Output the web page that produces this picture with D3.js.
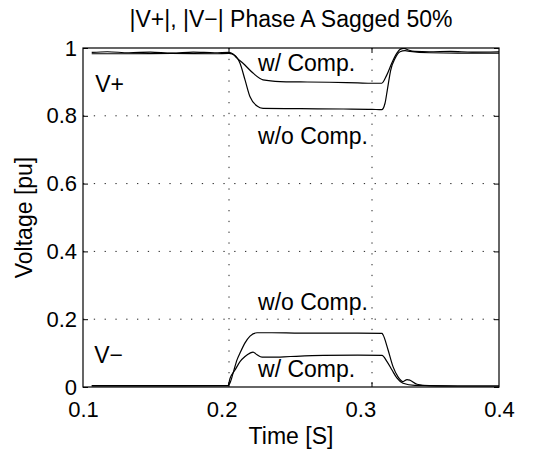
<!DOCTYPE html>
<html>
<head>
<meta charset="utf-8">
<script src="https://cdn.jsdelivr.net/npm/d3@7/dist/d3.min.js"></script>
<style>
  html, body { margin: 0; padding: 0; background: #fff; }
  svg text { font-family: "Liberation Sans", Arial, Helvetica, sans-serif; fill: #000; }
</style>
</head>
<body>
<svg id="chart" width="541" height="454"></svg>
<script>
// ---------------- data ----------------
const title = "|V+|, |V\u2212| Phase A Sagged 50%";
const xAxisTitle = "Time [S]";
const yAxisTitle = "Voltage [pu]";
const xTickValues = [0.1, 0.2, 0.3, 0.4];
const xTickLabels = ["0.1", "0.2", "0.3", "0.4"];
const yTickValues = [0, 0.2, 0.4, 0.6, 0.8, 1];
const yTickLabels = ["0", "0.2", "0.4", "0.6", "0.8", "1"];
const xGridValues = [0.2, 0.3];
const yGridValues = [0.2, 0.4, 0.6, 0.8];

// |V+| with compensation
const tPosWith = [0.104, 0.115, 0.13, 0.145, 0.16, 0.175, 0.19, 0.2, 0.2028, 0.2056, 0.2098, 0.2168, 0.2238, 0.2357, 0.25, 0.27, 0.29, 0.3, 0.3068, 0.3103, 0.3138, 0.3173, 0.3196, 0.3224, 0.3254, 0.33, 0.34, 0.355, 0.37, 0.39];
const vPosWith = [0.987, 0.989, 0.986, 0.988, 0.985, 0.988, 0.986, 0.987, 0.982, 0.97, 0.955, 0.926, 0.906, 0.901, 0.9, 0.899, 0.897, 0.896, 0.896, 0.92, 0.955, 0.984, 0.996, 0.999, 0.994, 0.99, 0.989, 0.99, 0.988, 0.989];
// |V+| without compensation
const tPosWithout = [0.104, 0.13, 0.16, 0.19, 0.2, 0.2042, 0.2077, 0.2112, 0.2147, 0.2196, 0.2238, 0.25, 0.28, 0.3, 0.3068, 0.3091, 0.3107, 0.3131, 0.3161, 0.3196, 0.3231, 0.3266, 0.34, 0.36, 0.39];
const vPosWithout = [0.983, 0.983, 0.984, 0.983, 0.984, 0.978, 0.955, 0.906, 0.856, 0.829, 0.822, 0.821, 0.82, 0.819, 0.818, 0.837, 0.876, 0.935, 0.969, 0.989, 0.992, 0.99, 0.986, 0.985, 0.985];
// |V-| without compensation
const tNegWithout = [0.104, 0.15, 0.1993, 0.2007, 0.2028, 0.2056, 0.2077, 0.2112, 0.2147, 0.2196, 0.23, 0.25, 0.27, 0.29, 0.307, 0.3077, 0.3112, 0.3147, 0.3182, 0.3217, 0.3245, 0.3266, 0.3315, 0.34, 0.36, 0.39];
const vNegWithout = [0.004, 0.004, 0.004, 0.012, 0.04, 0.08, 0.1, 0.13, 0.15, 0.16, 0.16, 0.159, 0.159, 0.159, 0.158, 0.154, 0.11, 0.06, 0.03, 0.016, 0.022, 0.02, 0.008, 0.004, 0.003, 0.003];
// |V-| with compensation
const tNegWith = [0.104, 0.15, 0.1993, 0.2007, 0.2042, 0.2077, 0.2112, 0.2147, 0.2168, 0.2196, 0.2231, 0.23, 0.243, 0.266, 0.29, 0.307, 0.3105, 0.314, 0.3175, 0.3217, 0.33, 0.36, 0.39];
const vNegWith = [0.003, 0.003, 0.004, 0.025, 0.05, 0.075, 0.09, 0.1, 0.103, 0.095, 0.088, 0.088, 0.09, 0.093, 0.094, 0.093, 0.075, 0.05, 0.026, 0.011, 0.005, 0.003, 0.003];

const series = [
  { t: tPosWith, v: vPosWith },
  { t: tPosWithout, v: vPosWithout },
  { t: tNegWithout, v: vNegWithout },
  { t: tNegWith, v: vNegWith }
];

const annotations = [
  { text: "V+", t: 0.1065, v: 0.87 },
  { text: "w/ Comp.", t: 0.2203, v: 0.932 },
  { text: "w/o Comp.", t: 0.2203, v: 0.717 },
  { text: "w/o Comp.", t: 0.2203, v: 0.226 },
  { text: "V\u2212", t: 0.1058, v: 0.072 },
  { text: "w/ Comp.", t: 0.2203, v: 0.029 }
];

// ---------------- layout ----------------
const L = 83, R = 499, T = 48, B = 387;
const FS = 23, FT = 22;
const svg = d3.select("#chart");

// axis label scale (tick labels) and data/grid scale
const xLab = d3.scaleLinear().domain([0.1, 0.4]).range([L, R]);
const x = d3.scaleLinear().domain([0.2, 0.3]).range([229, 372]);
const y = d3.scaleLinear().domain([0, 1]).range([B, T]);

svg.append("defs").append("clipPath").attr("id", "clip")
  .append("rect").attr("x", L).attr("y", T).attr("width", R - L).attr("height", B - T);

// grid
const grid = svg.append("g").attr("stroke", "#222").attr("stroke-width", 1)
  .attr("stroke-dasharray", "1.3,9.5");
grid.selectAll(".gy").data(yGridValues).join("line")
  .attr("x1", L).attr("x2", R).attr("y1", d => y(d)).attr("y2", d => y(d));
grid.selectAll(".gx").data(xGridValues).join("line")
  .attr("x1", d => x(d)).attr("x2", d => x(d)).attr("y1", T).attr("y2", B);

// lines
const line = d3.line().x(d => x(d[0])).y(d => y(d[1])).curve(d3.curveMonotoneX);
svg.append("g").attr("clip-path", "url(#clip)")
  .selectAll("path").data(series).join("path")
  .attr("d", s => line(s.t.map((t, i) => [t, s.v[i]])))
  .attr("fill", "none").attr("stroke", "#000").attr("stroke-width", 1.2);

// box
svg.append("rect").attr("x", L).attr("y", T).attr("width", R - L).attr("height", B - T)
  .attr("fill", "none").attr("stroke", "#000").attr("stroke-width", 1.2);

// x ticks (inward) at grid positions
const tk = svg.append("g").attr("stroke", "#000").attr("stroke-width", 1);
tk.selectAll(".xb").data(xGridValues).join("line")
  .attr("x1", d => x(d)).attr("x2", d => x(d)).attr("y1", B).attr("y2", B - 5);
tk.selectAll(".xt").data(xGridValues).join("line")
  .attr("x1", d => x(d)).attr("x2", d => x(d)).attr("y1", T).attr("y2", T + 5);

// x tick labels
const xAxis = d3.axisBottom(xLab).tickValues(xTickValues)
  .tickFormat((d, i) => xTickLabels[i]).tickSize(0).tickPadding(14);
const gx = svg.append("g").attr("transform", `translate(0,${B})`).call(xAxis);
gx.select(".domain").remove();
gx.selectAll("text").attr("font-size", FT).attr("font-family", "Liberation Sans, Arial, sans-serif");

// y axis
const yAxis = d3.axisLeft(y).tickValues(yTickValues)
  .tickFormat((d, i) => yTickLabels[i]).tickSizeInner(-5).tickSizeOuter(0).tickPadding(6);
const gy = svg.append("g").attr("transform", `translate(${L},0)`).call(yAxis);
gy.select(".domain").remove();
gy.selectAll("text").attr("font-size", FT).attr("font-family", "Liberation Sans, Arial, sans-serif");
const yAxisR = d3.axisRight(y).tickValues(yTickValues).tickFormat("").tickSizeInner(-5).tickSizeOuter(0);
const gyr = svg.append("g").attr("transform", `translate(${R},0)`).call(yAxisR);
gyr.select(".domain").remove();

// titles
svg.append("text").attr("x", (L + R) / 2).attr("y", 27).attr("text-anchor", "middle")
  .attr("font-size", FS).text(title);
svg.append("text").attr("x", (L + R) / 2).attr("y", 444).attr("text-anchor", "middle")
  .attr("font-size", FS).text(xAxisTitle);
svg.append("text").attr("transform", `translate(32,${(T + B) / 2}) rotate(-90)`)
  .attr("text-anchor", "middle").attr("font-size", FS).text(yAxisTitle);

// annotations
svg.append("g").selectAll("text").data(annotations).join("text")
  .attr("x", d => x(d.t)).attr("y", d => y(d.v))
  .attr("font-size", FS).text(d => d.text);
</script>
</body>
</html>
